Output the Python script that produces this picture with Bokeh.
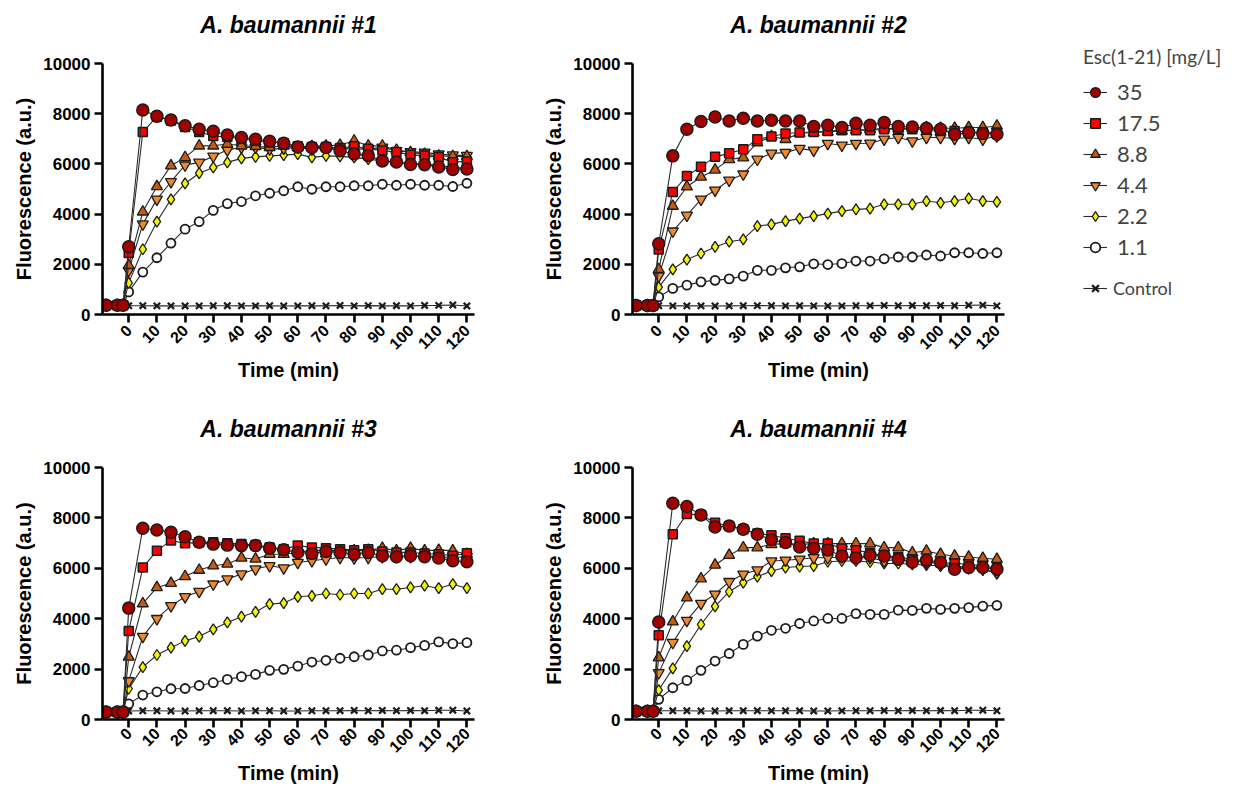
import math
from bokeh.plotting import figure
from bokeh.layouts import row, column
from bokeh.models import Legend, LegendItem, FixedTicker, Range1d
from bokeh.embed import file_html
from bokeh.resources import INLINE

# ---------------- data ----------------
TIME = [-8, -4, -2, 0, 5, 10, 15, 20, 25, 30, 35, 40, 45, 50, 55, 60,
        65, 70, 75, 80, 85, 90, 95, 100, 105, 110, 115, 120]
X_TICKS = [0, 10, 20, 30, 40, 50, 60, 70, 80, 90, 100, 110, 120]
Y_TICKS = [0, 2000, 4000, 6000, 8000, 10000]
SERIES = ["35", "17.5", "8.8", "4.4", "2.2", "1.1", "Control"]
TITLES = ["A. baumannii #1", "A. baumannii #2", "A. baumannii #3", "A. baumannii #4"]
LEGEND_TITLE = "Esc(1-21) [mg/L]"

# A. baumannii #1
ab1_35 = [370, 370, 370, 2700, 8150, 7900, 7750, 7520, 7380, 7300, 7150, 7050, 6980, 6900,
          6820, 6670, 6650, 6650, 6520, 6400, 6330, 6120, 6080, 5980, 5970, 5880, 5780, 5800]
ab1_17 = [370, 370, 370, 2450, 7270, 7880, 7730, 7470, 7270, 7110, 7070, 7000, 6930, 6870,
          6830, 6700, 6670, 6670, 6630, 6700, 6600, 6530, 6470, 6360, 6330, 6270, 6070, 6100]
ab1_88 = [370, 370, 370, 1960, 4090, 5100, 5930, 6260, 6720, 6720, 6790, 6720, 6700, 6660,
          6720, 6660, 6700, 6720, 6750, 6920, 6720, 6720, 6550, 6460, 6390, 6320, 6300, 6300]
ab1_44 = [370, 370, 370, 1750, 3600, 4590, 5290, 5950, 6060, 6300, 6550, 6660, 6660, 6590,
          6620, 6660, 6590, 6660, 6620, 6590, 6590, 6660, 6520, 6480, 6460, 6390, 6350, 6330]
ab1_22 = [370, 370, 370, 1260, 2600, 3700, 4590, 5220, 5630, 5860, 6060, 6220, 6280, 6320,
          6350, 6390, 6260, 6320, 6300, 6260, 6190, 6120, 6060, 6000, 6000, 5930, 5860, 5820]
ab1_11 = [370, 370, 370, 900, 1690, 2260, 2840, 3400, 3700, 4150, 4420, 4500, 4730, 4830,
          4930, 5090, 4990, 5090, 5090, 5130, 5130, 5190, 5150, 5190, 5150, 5150, 5100, 5230]
ab1_ct = [370, 370, 370, 350, 350, 345, 345, 340, 345, 350, 350, 345, 345, 350,
          340, 345, 350, 345, 360, 345, 355, 345, 350, 345, 360, 365, 380, 340]

# A. baumannii #2
ab2_35 = [360, 360, 360, 2820, 6320, 7380, 7690, 7870, 7710, 7820, 7710, 7740, 7710, 7710,
          7490, 7540, 7450, 7620, 7540, 7650, 7490, 7470, 7420, 7380, 7180, 7250, 7210, 7180]
ab2_17 = [360, 360, 360, 2590, 4880, 5520, 5890, 6280, 6420, 6580, 6980, 7090, 7210, 7250,
          7270, 7310, 7340, 7340, 7340, 7380, 7380, 7380, 7380, 7310, 7310, 7270, 7250, 7250]
ab2_88 = [360, 360, 360, 1800, 4320, 5090, 5480, 5760, 6180, 6250, 6850, 7090, 6980, 7220,
          7250, 7270, 7310, 7340, 7380, 7410, 7410, 7420, 7450, 7420, 7420, 7450, 7450, 7510]
ab2_44 = [360, 360, 360, 1530, 3320, 3950, 4590, 4950, 5350, 5590, 6180, 6420, 6450, 6610,
          6540, 6810, 6740, 6810, 6820, 6980, 7050, 6910, 7050, 7050, 7010, 7050, 6980, 7110]
ab2_22 = [360, 360, 360, 1090, 1800, 2190, 2430, 2690, 2900, 2990, 3520, 3590, 3720, 3820,
          3920, 4020, 4120, 4190, 4220, 4390, 4390, 4390, 4520, 4450, 4520, 4630, 4520, 4490]
ab2_11 = [360, 360, 360, 700, 1040, 1170, 1300, 1360, 1420, 1530, 1760, 1760, 1860, 1900,
          2020, 1990, 2030, 2130, 2130, 2220, 2290, 2290, 2370, 2330, 2460, 2460, 2430, 2460]
ab2_ct = [360, 360, 360, 350, 345, 345, 345, 340, 345, 350, 355, 350, 345, 350,
          345, 340, 345, 350, 355, 365, 350, 360, 350, 360, 350, 370, 375, 345]

# A. baumannii #3
ab3_35 = [300, 300, 300, 4420, 7590, 7520, 7430, 7250, 7030, 6960, 6920, 6900, 6900, 6800,
          6740, 6630, 6590, 6670, 6630, 6560, 6630, 6500, 6460, 6500, 6460, 6410, 6300, 6260]
ab3_17 = [300, 300, 300, 3510, 6030, 6700, 7100, 6990, 7030, 7030, 6990, 6960, 6920, 6830,
          6760, 6900, 6830, 6800, 6760, 6720, 6760, 6670, 6630, 6630, 6590, 6560, 6500, 6600]
ab3_88 = [300, 300, 300, 2480, 4600, 5240, 5410, 5680, 5930, 6100, 6170, 6410, 6370, 6560,
          6560, 6630, 6720, 6700, 6700, 6700, 6720, 6800, 6700, 6800, 6700, 6720, 6700, 6560]
ab3_44 = [300, 300, 300, 1530, 3290, 4000, 4510, 4870, 5080, 5370, 5570, 5770, 5970, 6100,
          6010, 6230, 6300, 6370, 6430, 6410, 6430, 6460, 6460, 6460, 6500, 6460, 6430, 6460]
ab3_22 = [300, 300, 300, 1220, 2080, 2560, 2850, 3120, 3290, 3580, 3850, 4080, 4270, 4580,
          4620, 4870, 4910, 5000, 4950, 5000, 5000, 5170, 5170, 5240, 5310, 5210, 5370, 5210]
ab3_11 = [300, 300, 300, 620, 970, 1100, 1220, 1230, 1350, 1460, 1590, 1700, 1790, 1950,
          1990, 2120, 2280, 2350, 2430, 2490, 2560, 2720, 2750, 2850, 2940, 3080, 3010, 3050]
ab3_ct = [300, 300, 300, 340, 345, 345, 340, 335, 345, 350, 350, 340, 345, 345,
          340, 340, 345, 350, 350, 360, 345, 360, 350, 355, 350, 365, 370, 340]

# A. baumannii #4
ab4_35 = [330, 330, 330, 3870, 8580, 8450, 8120, 7640, 7680, 7550, 7350, 7130, 7020, 6850,
          6790, 6730, 6490, 6420, 6520, 6490, 6360, 6250, 6330, 6230, 5960, 6030, 6030, 5960]
ab4_17 = [330, 330, 330, 3340, 7350, 8150, 8120, 7810, 7680, 7550, 7380, 7310, 7190, 7090,
          6980, 6980, 6790, 6720, 6620, 6490, 6450, 6360, 6290, 6230, 6190, 6160, 6090, 6000]
ab4_88 = [330, 330, 330, 2450, 3880, 4830, 5590, 6130, 6520, 6820, 6820, 6950, 6980, 6950,
          6980, 6980, 6980, 6980, 6980, 6820, 6820, 6620, 6690, 6560, 6490, 6450, 6400, 6360]
ab4_44 = [330, 330, 330, 1850, 3050, 3930, 4600, 4970, 5470, 5760, 5930, 6290, 6320, 6360,
          6420, 6420, 6450, 6420, 6420, 6290, 6360, 6290, 6230, 6190, 6090, 6030, 5960, 5830]
ab4_22 = [330, 330, 330, 1170, 2030, 2910, 3770, 4490, 5070, 5430, 5670, 5890, 6030, 6070,
          6090, 6260, 6290, 6290, 6250, 6190, 6190, 6160, 6130, 6090, 6030, 6000, 5960, 5790]
ab4_11 = [330, 330, 330, 800, 1260, 1550, 1950, 2320, 2620, 2980, 3310, 3540, 3620, 3810,
          3910, 4010, 4010, 4200, 4170, 4170, 4340, 4330, 4410, 4370, 4410, 4440, 4500, 4530]
ab4_ct = [330, 330, 330, 345, 345, 345, 340, 340, 345, 350, 350, 345, 345, 345,
          340, 340, 345, 345, 350, 355, 345, 355, 350, 355, 350, 365, 370, 345]

PANELS = [
    [ab1_35, ab1_17, ab1_88, ab1_44, ab1_22, ab1_11, ab1_ct],
    [ab2_35, ab2_17, ab2_88, ab2_44, ab2_22, ab2_11, ab2_ct],
    [ab3_35, ab3_17, ab3_88, ab3_44, ab3_22, ab3_11, ab3_ct],
    [ab4_35, ab4_17, ab4_88, ab4_44, ab4_22, ab4_11, ab4_ct],
]

# ---------------- styles ----------------
EDGE = "#1a1a1a"
STYLE = {
    "35":      dict(marker="circle", size=12, fill_color="#a30000", line_width=1.5),
    "17.5":    dict(marker="square", size=9, fill_color="#ff0000", line_width=1.5),
    "8.8":     dict(marker="triangle", size=11, fill_color="#c55a11", line_width=1.3),
    "4.4":     dict(marker="inverted_triangle", size=11, fill_color="#ee8a2e", line_width=1.3),
    "2.2":     dict(marker="diamond", size=11, fill_color="#f5f500", line_width=1.3),
    "1.1":     dict(marker="circle", size=9, fill_color="#ffffff", line_width=1.8),
    "Control": dict(marker="x", size=9, fill_color=None, line_width=2.2),
}
FONT = "Liberation Sans"
X_RANGE = (-9.3, 122.7)


def make_panel(title, series, width, height, left, right, top, bottom, tick_standoff):
    p = figure(width=width, height=height, output_backend="svg", toolbar_location=None,
               x_range=Range1d(*X_RANGE), y_range=Range1d(0, 10000),
               min_border_left=left, min_border_right=right,
               min_border_top=top, min_border_bottom=bottom,
               title=title + "\n")
    p.outline_line_color = None
    p.xgrid.visible = False
    p.ygrid.visible = False
    p.background_fill_color = "white"
    p.border_fill_color = "white"

    p.title.text_font = FONT
    p.title.text_font_style = "bold italic"
    p.title.text_font_size = "23px"
    p.title.text_color = "black"
    p.title.align = "center"
    p.title.standoff = 0

    p.xaxis.ticker = FixedTicker(ticks=X_TICKS)
    p.yaxis.ticker = FixedTicker(ticks=Y_TICKS)
    p.xaxis.major_label_orientation = math.pi / 4
    p.xaxis.axis_label = "Time (min)"
    p.yaxis.axis_label = "Fluorescence (a.u.)"
    for ax in (p.xaxis[0], p.yaxis[0]):
        ax.axis_line_width = 2.6
        ax.axis_line_color = "black"
        ax.major_tick_line_width = 2.6
        ax.major_tick_line_color = "black"
        ax.major_tick_out = 8
        ax.major_tick_in = 0
        ax.minor_tick_out = 0
        ax.minor_tick_in = 0
        ax.major_label_text_font = FONT
        ax.major_label_text_font_style = "bold"
        ax.major_label_text_font_size = "17px"
        ax.major_label_text_color = "black"
        ax.axis_label_text_font = FONT
        ax.axis_label_text_font_style = "bold"
        ax.axis_label_text_font_size = "20px"
        ax.axis_label_text_color = "black"
    p.yaxis.major_label_standoff = 4
    p.yaxis.axis_label_standoff = 5
    p.xaxis.major_label_text_font_size = "16px"
    p.xaxis.major_label_standoff = tick_standoff
    p.xaxis.axis_label_standoff = 1

    # draw from control up to 35 so the 35 series sits on top
    for name, vals in reversed(list(zip(SERIES, series))):
        st = STYLE[name]
        p.line(TIME, vals, line_color="#2a2a2a", line_width=1.1)
        p.scatter(TIME, vals, marker=st["marker"], size=st["size"],
                  fill_color=st["fill_color"], line_color=EDGE,
                  line_width=st["line_width"])
    return p


p1 = make_panel(TITLES[0], PANELS[0], 530, 400, 102, 56, 63, 86, 5)
p2 = make_panel(TITLES[1], PANELS[1], 494, 400, 102, 20, 63, 86, 5)
p3 = make_panel(TITLES[2], PANELS[2], 530, 387, 102, 56, 67, 68, 3)
p4 = make_panel(TITLES[3], PANELS[3], 494, 387, 102, 20, 67, 68, 3)

# ---------------- legend panel ----------------
# The legend lives in its own axis-less figure; its renderers reuse the panel #2 series,
# which fall outside this figure's ranges, so only their legend glyphs are seen.
lf = figure(width=223, height=400, output_backend="svg", toolbar_location=None,
            x_axis_location=None, y_axis_location=None,
            x_range=Range1d(500, 600), y_range=Range1d(-2, -1),
            min_border_left=0, min_border_right=0, min_border_top=0, min_border_bottom=0)
lf.outline_line_color = None
lf.xgrid.visible = False
lf.ygrid.visible = False

items = []
for name, vals in zip(SERIES, PANELS[1]):
    st = STYLE[name]
    rl = lf.line(TIME, vals, line_color="#2a2a2a", line_width=1.1)
    rs = lf.scatter(TIME, vals, marker=st["marker"], size=st["size"] - 1,
                    fill_color=st["fill_color"], line_color=EDGE, line_width=st["line_width"])
    items.append(LegendItem(label=name, renderers=[rl, rs]))

leg1 = Legend(items=items[:6], location=(59, 140), title=LEGEND_TITLE,
              margin=0, padding=0, spacing=4, glyph_width=24, glyph_height=24,
              label_height=24, label_standoff=10,
              label_text_font="Lato", label_text_font_size="22px",
              title_text_font="Lato", title_text_font_size="19px",
              title_text_font_style="normal", title_standoff=10,
              border_line_color=None, background_fill_alpha=0)
leg2 = Legend(items=items[6:], location=(59, 100),
              margin=0, padding=0, spacing=0, glyph_width=24, glyph_height=24,
              label_height=24, label_standoff=6,
              label_text_font="Lato", label_text_font_size="18px",
              border_line_color=None, background_fill_alpha=0)
lf.add_layout(leg1)
lf.add_layout(leg2)

layout = row(column(row(p1, p2), row(p3, p4)), lf)

open("out.html", "w").write(file_html(layout, INLINE))
